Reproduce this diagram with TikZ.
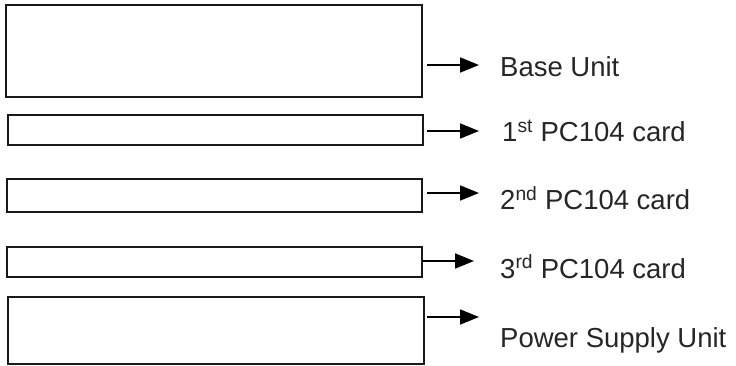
\documentclass[tikz,border=0pt]{standalone}
\usepackage{fontspec}
\setmainfont{Liberation Sans}
\usetikzlibrary{arrows.meta,calc}
\begin{document}
\begin{tikzpicture}[x=1pt,y=-1pt,
  unitbox/.style={draw=black!90,line width=1.7pt,inner sep=0pt,outer sep=0pt,anchor=north west},
  arr/.style={draw=black,line width=1.8pt,-{Triangle[length=19pt,width=15pt]}},
  lbl/.style={anchor=base west,inner sep=0pt,font=\fontsize{27.5}{32}\selectfont,text=black!85}]
\useasboundingbox (0,0) rectangle (736,366);
\node[unitbox,minimum width=416pt,minimum height=92pt] (b1) at (6,5) {};
\node[unitbox,minimum width=415pt,minimum height=30pt] (b2) at (8,115) {};
\node[unitbox,minimum width=415pt,minimum height=33pt] (b3) at (7,179) {};
\node[unitbox,minimum width=415pt,minimum height=30pt] (b4) at (7,247) {};
\node[unitbox,minimum width=416pt,minimum height=67pt] (b5) at (8,297) {};
\coordinate (a1) at (479,65);
\coordinate (a2) at (479,131);
\coordinate (a3) at (479,193);
\coordinate (a4) at (474,261);
\coordinate (a5) at (479,317);
\draw[arr] ($(b1.east |- a1)+(5,0)$) -- (a1);
\draw[arr] ($(b2.east |- a2)+(4,0)$) -- (a2);
\draw[arr] ($(b3.east |- a3)+(5,0)$) -- (a3);
\draw[arr] (b4.east |- a4) -- (a4);
\draw[arr] ($(b5.east |- a5)+(3,0)$) -- (a5);
\node[lbl] (t1) at (500,77) {Base Unit};
\node[lbl] (t2) at (502,142) {1\textsuperscript{st} PC104 card};
\node[lbl] (t3) at (500,210) {2\textsuperscript{nd} PC104 card};
\node[lbl] (t4) at (500,278) {3\textsuperscript{rd} PC104 card};
\node[lbl] (t5) at (500,347) {Power Supply Unit};
\end{tikzpicture}
\end{document}
